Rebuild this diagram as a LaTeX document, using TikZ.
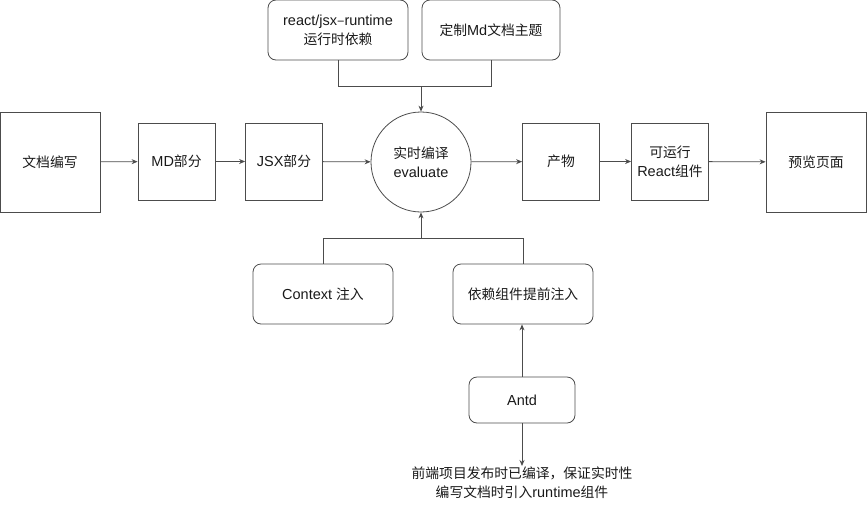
\documentclass[tikz,border=0pt]{standalone}
\usepackage{fontspec}
\setmainfont[Scale=1.05]{Liberation Sans}
\newfontfamily\cjk{Noto Sans CJK SC}
\usetikzlibrary{arrows.meta}
\begin{document}
\begin{tikzpicture}[x=1pt,y=-1pt,
  every node/.style={font=\fontsize{13.8}{19}\selectfont, text=black!90},
  sq/.style={draw=black!70, line width=0.8pt, rectangle, inner sep=0pt},
  rbox/.style={draw=black!70, line width=0.8pt, rectangle, rounded corners=8pt, inner sep=0pt, minimum width=140pt, minimum height=60pt, align=center},
  conn/.style={draw=black!70, line width=0.8pt},
  arr/.style={conn, -{Stealth[length=6pt,width=5pt]}}]
\useasboundingbox (0,0) rectangle (867,512);
\node[sq, minimum width=100pt, minimum height=100pt] (doc) at (50,162) {\cjk 文档编写};
\node[sq, minimum width=77pt, minimum height=77pt] (md) at (176.5,161.5) {MD{\cjk 部分}};
\node[sq, minimum width=77pt, minimum height=77pt] (jsx) at (284,161.5) {JSX{\cjk 部分}};
\node[draw=black!70, line width=0.8pt, circle, minimum size=100pt, inner sep=0pt, align=center] (ev) at (421,162) {{\cjk 实时编译}\\evaluate};
\node[sq, minimum width=77pt, minimum height=77pt] (prod) at (561,161.5) {\cjk 产物};
\node[sq, minimum width=77pt, minimum height=77pt, align=center] (react) at (670,161.5) {{\cjk 可运行}\\React{\cjk 组件}};
\node[sq, minimum width=100pt, minimum height=100pt] (prev) at (816,162) {\cjk 预览页面};
\node[rbox] (rt) at (338,30) {react/jsx{\cjk –}runtime\\{\cjk 运行时依赖}};
\node[rbox, minimum width=138pt] (theme) at (491,30) {{\cjk 定制}Md{\cjk 文档主题}};
\node[rbox] (ctx) at (323,294) {Context {\cjk 注入}};
\node[rbox] (dep) at (523,294) {\cjk 依赖组件提前注入};
\node[rbox, minimum width=106pt, minimum height=46pt] (antd) at (522,400) {Antd};
\node[align=center, inner sep=1pt, anchor=north] (note) at (522,466) {{\cjk 前端项目发布时已编译，保证实时性}\\{\cjk 编写文档时引入}runtime{\cjk 组件}};
\coordinate (tj) at (421,86);
\coordinate (bj) at (421,238);
\draw[arr] (doc) -- (md);
\draw[arr] (md) -- (jsx);
\draw[arr] (jsx) -- (ev);
\draw[arr] (ev) -- (prod);
\draw[arr] (prod) -- (react);
\draw[arr] (react) -- (prev);
\draw[conn] (rt.south) |- (tj);
\draw[conn] (theme.south) |- (tj);
\draw[arr] (tj) -- (ev.north);
\draw[conn] (ctx.north) |- (bj);
\draw[conn] (dep.north) |- (bj);
\draw[arr] (bj) -- (ev.south);
\draw[arr] (antd.north) -- (antd.north |- dep.south);
\draw[arr] (antd.south) -- (note.north);
\end{tikzpicture}
\end{document}
